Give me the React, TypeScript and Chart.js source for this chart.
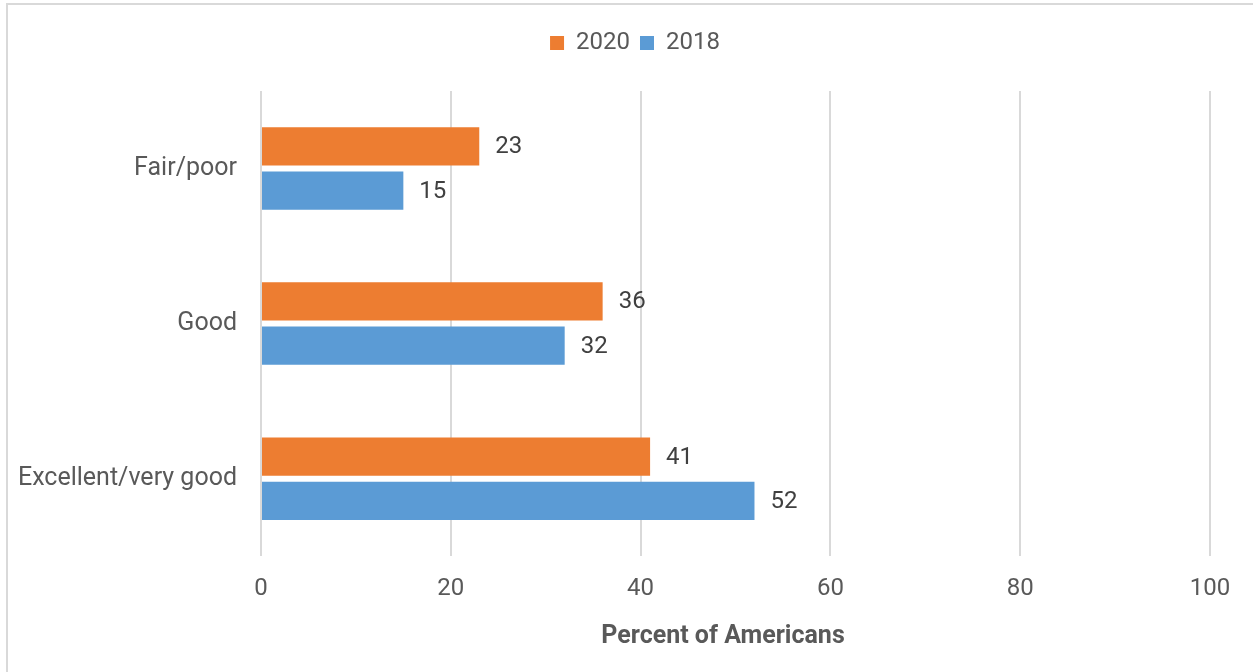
import React, { useEffect, useRef } from "react";
import { Chart, registerables } from "chart.js";

Chart.register(...registerables);

const categories = ["Fair/poor", "Good", "Excellent/very good"];
const values2020 = [23, 36, 41];
const values2018 = [15, 32, 52];
const seriesNames = ["2020", "2018"];
const xTicks = [0, 20, 40, 60, 80, 100];
const axisTitle = "Percent of Americans";

const FONT = "Roboto";

export default function App() {
  const ref = useRef<HTMLCanvasElement | null>(null);

  useEffect(() => {
    if (!ref.current) return;

    const borderPlugin = {
      id: "frame",
      beforeDraw(chart: any) {
        const ctx = chart.ctx;
        ctx.save();
        ctx.fillStyle = "#ffffff";
        ctx.fillRect(0, 0, chart.width, chart.height);
        ctx.fillStyle = "#d9d9d9";
        ctx.fillRect(6, 3, chart.width - 6, 2);
        ctx.fillRect(6, 3, 2, chart.height - 3);
        ctx.restore();
      },
    };

    const legendSpace = {
      id: "legendSpace",
      beforeInit(chart: any) {
        const fit = chart.legend.fit;
        chart.legend.fit = function () {
          fit.call(this);
          this.height += 26;
        };
      },
      afterLayout(chart: any) {
        chart.legend.left += 30;
        chart.legend.right += 30;
      },
    };

    const labelsPlugin = {
      id: "valueLabels",
      afterDatasetsDraw(chart: any) {
        const ctx = chart.ctx;
        ctx.save();
        ctx.font = `24px ${FONT}`;
        ctx.fillStyle = "#404040";
        ctx.textAlign = "left";
        ctx.textBaseline = "middle";
        chart.data.datasets.forEach((ds: any, di: number) => {
          const meta = chart.getDatasetMeta(di);
          meta.data.forEach((bar: any, i: number) => {
            ctx.fillText(String(ds.data[i]), bar.x + 16, bar.y + 1);
          });
        });
        ctx.restore();
      },
    };

    const titlePlugin = {
      id: "axisTitle",
      afterDraw(chart: any) {
        const ctx = chart.ctx;
        ctx.save();
        ctx.font = `bold 25px ${FONT}`;
        ctx.fillStyle = "#595959";
        ctx.textAlign = "center";
        ctx.textBaseline = "middle";
        ctx.fillText(axisTitle, 723, 637);
        ctx.restore();
      },
    };

    const chart = new Chart(ref.current, {
      type: "bar",
      data: {
        labels: categories,
        datasets: [
          {
            label: seriesNames[0],
            data: values2020,
            backgroundColor: "#ED7D31",
            categoryPercentage: 0.571,
            barPercentage: 0.864,
          },
          {
            label: seriesNames[1],
            data: values2018,
            backgroundColor: "#5B9BD5",
            categoryPercentage: 0.571,
            barPercentage: 0.864,
          },
        ],
      },
      options: {
        indexAxis: "y",
        responsive: false,
        animation: false,
        devicePixelRatio: 1,
        layout: { padding: { left: 0, right: 43, top: 21, bottom: 51 } },
        plugins: {
          legend: {
            position: "top",
            labels: {
              boxWidth: 14,
              boxHeight: 14,
              padding: 10,
              color: "#595959",
              font: { family: FONT, size: 24 },
            },
          },
          tooltip: { enabled: false },
        },
        scales: {
          x: {
            min: 0,
            max: 100,
            afterBuildTicks(scale: any) {
              scale.ticks = xTicks.map((v) => ({ value: v }));
            },
            grid: { color: "#d9d9d9", lineWidth: 2, drawTicks: false },
            border: { display: false },
            ticks: {
              padding: 18,
              color: "#595959",
              font: { family: FONT, size: 24 },
            },
          },
          y: {
            grid: { display: false, drawTicks: false },
            border: { display: false },
            afterFit(scale: any) {
              scale.width = 261;
            },
            ticks: {
              padding: 24,
              color: "#595959",
              font: { family: FONT, size: 25 },
            },
          },
        },
      },
      plugins: [borderPlugin, legendSpace, labelsPlugin, titlePlugin],
    } as any);

    return () => chart.destroy();
  }, []);

  return (
    <div style={{ position: "absolute", left: 0, top: 0, width: 1253, height: 672 }}>
      <canvas ref={ref} width={1253} height={672} style={{ width: 1253, height: 672 }} />
    </div>
  );
}
